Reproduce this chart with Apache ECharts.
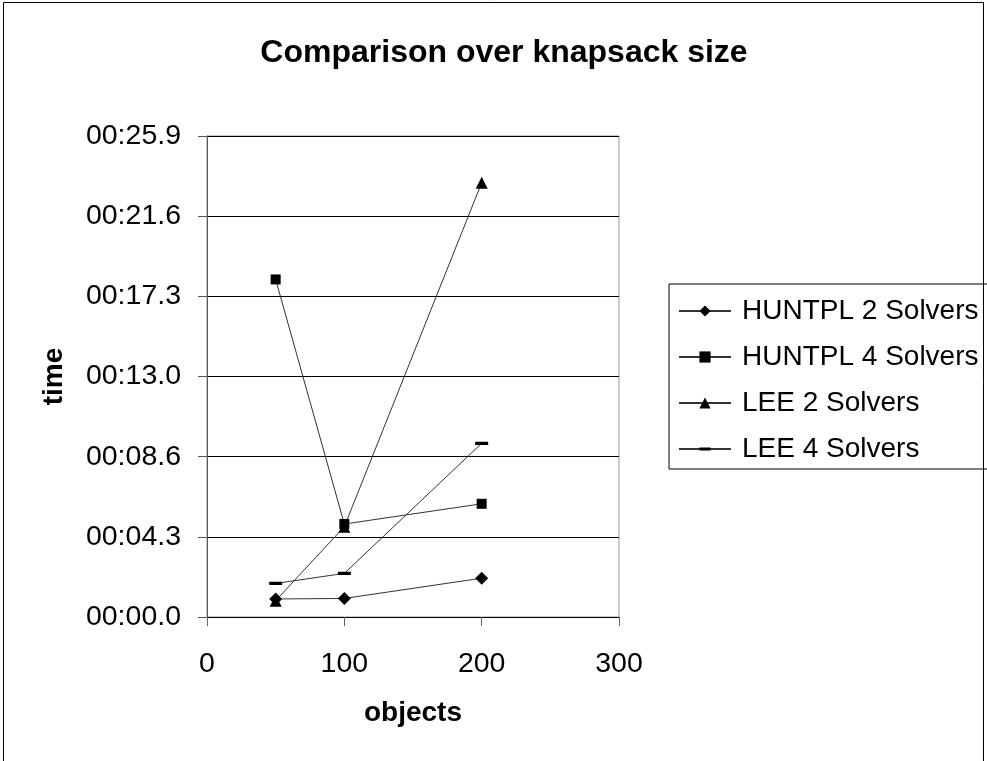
<!DOCTYPE html>
<html>
<head>
<meta charset="utf-8">
<script src="https://cdn.jsdelivr.net/npm/echarts@6/dist/echarts.min.js"></script>
<style>
  html, body { margin: 0; padding: 0; background: #fff; }
  #main { width: 987px; height: 761px; }
</style>
</head>
<body>
<div id="main"></div>
<script>
var objects = [50, 100, 200];
// times in seconds
var huntpl2 = [0.97, 1.0, 2.09];
var huntpl4 = [18.19, 5.01, 6.1];
var lee2 = [0.88, 4.87, 23.4];
var lee4 = [1.81, 2.35, 9.36];
var seriesNames = ['HUNTPL 2 Solvers', 'HUNTPL 4 Solvers', 'LEE 2 Solvers', 'LEE 4 Solvers'];

var font = '"Liberation Sans", Arial, sans-serif';

// dash marker inside a square box, so the legend keeps its shape
var dashSymbol = 'path://M0,0L0.1,0Z M0,9H24V15H0Z M0,24L0.1,24Z';

function pairs(vals) {
  return objects.map(function (x, i) { return [x, vals[i]]; });
}

function fmtTime(v) {
  var m = Math.floor(v / 60);
  var s = v - m * 60;
  var ss = s.toFixed(1);
  if (s < 10) ss = '0' + ss;
  return (m < 10 ? '0' : '') + m + ':' + ss;
}

function mkSeries(name, vals, symbol, size) {
  return {
    name: name,
    type: 'line',
    data: pairs(vals),
    symbol: symbol,
    symbolSize: size,
    showAllSymbol: true,
    itemStyle: { color: '#000' },
    lineStyle: { color: '#333', width: 1 },
    emphasis: { disabled: true }
  };
}

var chart = echarts.init(document.getElementById('main'));
var option = {
  backgroundColor: '#fff',
  animation: false,
  textStyle: { fontFamily: font },
  title: {
    text: 'Comparison over knapsack size',
    left: 504,
    textAlign: 'center',
    top: 37,
    padding: 0,
    textStyle: { fontFamily: font, fontSize: 32, fontWeight: 'bold', color: '#000' }
  },
  graphic: [{
    type: 'rect',
    shape: { x: 3.5, y: 2.5, width: 980, height: 800 },
    style: { fill: 'none', stroke: '#000', lineWidth: 1 },
    silent: true
  }],
  legend: {
    orient: 'vertical',
    left: 669,
    top: 284,
    padding: [13, 10, 6, 9],
    borderColor: '#000',
    borderWidth: 1,
    itemWidth: 52,
    itemHeight: 14,
    itemGap: 18,
    data: seriesNames,
    textStyle: { fontFamily: font, fontSize: 28, color: '#000', padding: [0, 0, 0, 6] }
  },
  grid: {
    left: 207,
    top: 136,
    right: 368,
    bottom: 144,
    show: true,
    borderColor: '#999',
    borderWidth: 1
  },
  xAxis: {
    type: 'value',
    min: 0,
    max: 300,
    interval: 100,
    name: 'objects',
    nameLocation: 'middle',
    nameGap: 82,
    nameTextStyle: { fontFamily: font, fontSize: 28, fontWeight: 'bold', color: '#000' },
    axisLine: { lineStyle: { color: '#000', width: 1 } },
    axisTick: { show: true, length: 9, lineStyle: { color: '#666' } },
    axisLabel: { fontFamily: font, fontSize: 28.5, color: '#000', margin: 33 },
    splitLine: { show: false }
  },
  yAxis: {
    type: 'value',
    min: 0,
    max: 25.92,
    interval: 4.32,
    name: 'time',
    nameLocation: 'middle',
    nameGap: 139,
    nameRotate: 90,
    nameTextStyle: { fontFamily: font, fontSize: 28, fontWeight: 'bold', color: '#000' },
    axisLine: { show: true, lineStyle: { color: '#555', width: 1 } },
    axisTick: { show: true, length: 9, lineStyle: { color: '#555' } },
    axisLabel: { fontFamily: font, fontSize: 28.5, color: '#000', margin: 26, formatter: fmtTime },
    splitLine: { show: true, lineStyle: { color: '#000', width: 1 } }
  },
  series: [
    mkSeries(seriesNames[0], huntpl2, 'diamond', 13),
    mkSeries(seriesNames[1], huntpl4, 'rect', 10),
    mkSeries(seriesNames[2], lee2, 'triangle', 12),
    mkSeries(seriesNames[3], lee4, dashSymbol, 13)
  ]
};
chart.setOption(option);
</script>
</body>
</html>
